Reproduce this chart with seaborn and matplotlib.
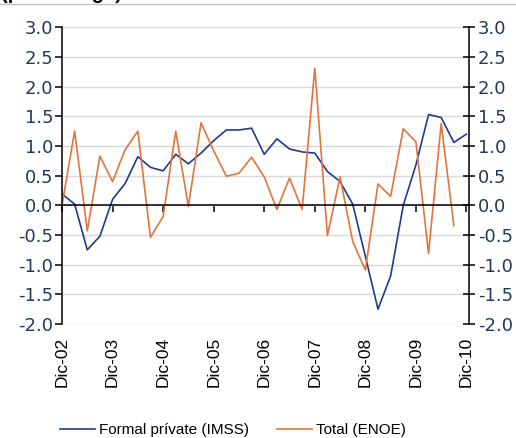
import numpy as np
import pandas as pd
import seaborn as sns
import matplotlib.pyplot as plt
from matplotlib.lines import Line2D
from matplotlib.ticker import FormatStrFormatter

# quarterly series, Dic-02 ... Dic-10
tick_labels = ['Dic-02', 'Dic-03', 'Dic-04', 'Dic-05', 'Dic-06',
               'Dic-07', 'Dic-08', 'Dic-09', 'Dic-10']
formal_private = [0.19, 0.02, -0.75, -0.52, 0.10, 0.37, 0.82, 0.64, 0.58,
                  0.86, 0.70, 0.88, 1.09, 1.27, 1.27, 1.30, 0.86, 1.12,
                  0.95, 0.90, 0.88, 0.57, 0.40, 0.02, -0.86, -1.75, -1.19,
                  0.00, 0.68, 1.53, 1.48, 1.06, 1.20]
total_enoe = [0.00, 1.25, -0.43, 0.83, 0.40, 0.94, 1.25, -0.54, -0.19,
              1.25, -0.02, 1.39, 0.92, 0.49, 0.54, 0.81, 0.48, -0.07,
              0.46, -0.07, 2.31, -0.51, 0.48, -0.61, -1.09, 0.36, 0.15,
              1.29, 1.07, -0.81, 1.38, -0.34]
series_names = ['Formal prívate (IMSS)', 'Total (ENOE)']
y_ticks = [-2.0, -1.5, -1.0, -0.5, 0.0, 0.5, 1.0, 1.5, 2.0, 2.5, 3.0]

plt.rcParams['axes.unicode_minus'] = False

df = pd.concat([
    pd.DataFrame({'q': np.arange(len(formal_private)), 'value': formal_private,
                  'series': series_names[0]}),
    pd.DataFrame({'q': np.arange(len(total_enoe)), 'value': total_enoe,
                  'series': series_names[1]}),
])

W, H = 516, 438
fig = plt.figure(figsize=(W / 100, H / 100), dpi=100)
ax = fig.add_axes([62 / W, 1 - 324 / H, (469 - 62) / W, (324 - 27.3) / H])

palette = {series_names[0]: '#1F3A93', series_names[1]: '#E2743C'}
sns.lineplot(data=df, x='q', y='value', hue='series', palette=palette,
             linewidth=1.2, legend=False, ax=ax)

n_q = len(formal_private) - 1
ax.set_xlim(0, n_q + 0.2)
ax.set_ylim(-2, 3)
ax.set_xlabel('')
ax.set_ylabel('')

# horizontal gridlines
ax.set_axisbelow(True)
ax.yaxis.grid(True, color='#D9D9D9', linewidth=1)
ax.xaxis.grid(False)

# x axis line through zero, yearly ticks
ax.spines['bottom'].set_position(('data', 0))
ax.spines['top'].set_visible(False)
ax.spines['right'].set_visible(False)
for s in ['bottom', 'left']:
    ax.spines[s].set_linewidth(1.1)
    ax.spines[s].set_color('black')
year_pos = list(range(0, n_q + 1, 4))
ax.set_xticks(year_pos)
ax.tick_params(axis='x', direction='out', length=5, width=1.1, labelbottom=False)

# left y axis
ax.set_yticks(y_ticks)
ax.yaxis.set_major_formatter(FormatStrFormatter('%.1f'))
ax.tick_params(axis='y', direction='out', length=5.3, width=1.1, pad=1,
               labelsize=13, labelcolor='#1F3864')

# right y axis
axr = ax.twinx()
axr.set_ylim(-2, 3)
axr.set_yticks(y_ticks)
axr.yaxis.set_major_formatter(FormatStrFormatter('%.1f'))
for s in ['top', 'bottom', 'left']:
    axr.spines[s].set_visible(False)
axr.spines['right'].set_linewidth(1.1)
axr.tick_params(axis='y', direction='inout', length=8.6, width=1.1, pad=2,
                labelsize=13, labelcolor='#1F3864')

# date labels at the bottom of the plot area
sec = ax.secondary_xaxis('bottom')
sec.set_xticks(year_pos, labels=tick_labels)
sec.spines['bottom'].set_visible(False)
sec.tick_params(axis='x', length=0, pad=9, labelrotation=90, labelsize=12.5)
for lbl in sec.get_xticklabels():
    lbl.set_fontfamily('Liberation Sans')

# legend
handles = [Line2D([], [], color=palette[n], linewidth=1.2) for n in series_names]
fig.legend(handles, series_names, loc='center', bbox_to_anchor=(233 / W, 1 - 430 / H),
           ncol=2, frameon=False, handlelength=2.3, handletextpad=0.25,
           columnspacing=1.8, prop={'family': 'Liberation Sans', 'size': 11})

# clipped title and rule at the top
fig.text(0.002, 1 + 1 / H, '(percentage)', fontsize=14.5, fontweight='bold',
         family='Liberation Sans', va='baseline')
fig.add_artist(Line2D([0, 1], [1 - 4 / H] * 2, color='#BFBFBF', linewidth=1))

fig.savefig('out.png', dpi=100)
